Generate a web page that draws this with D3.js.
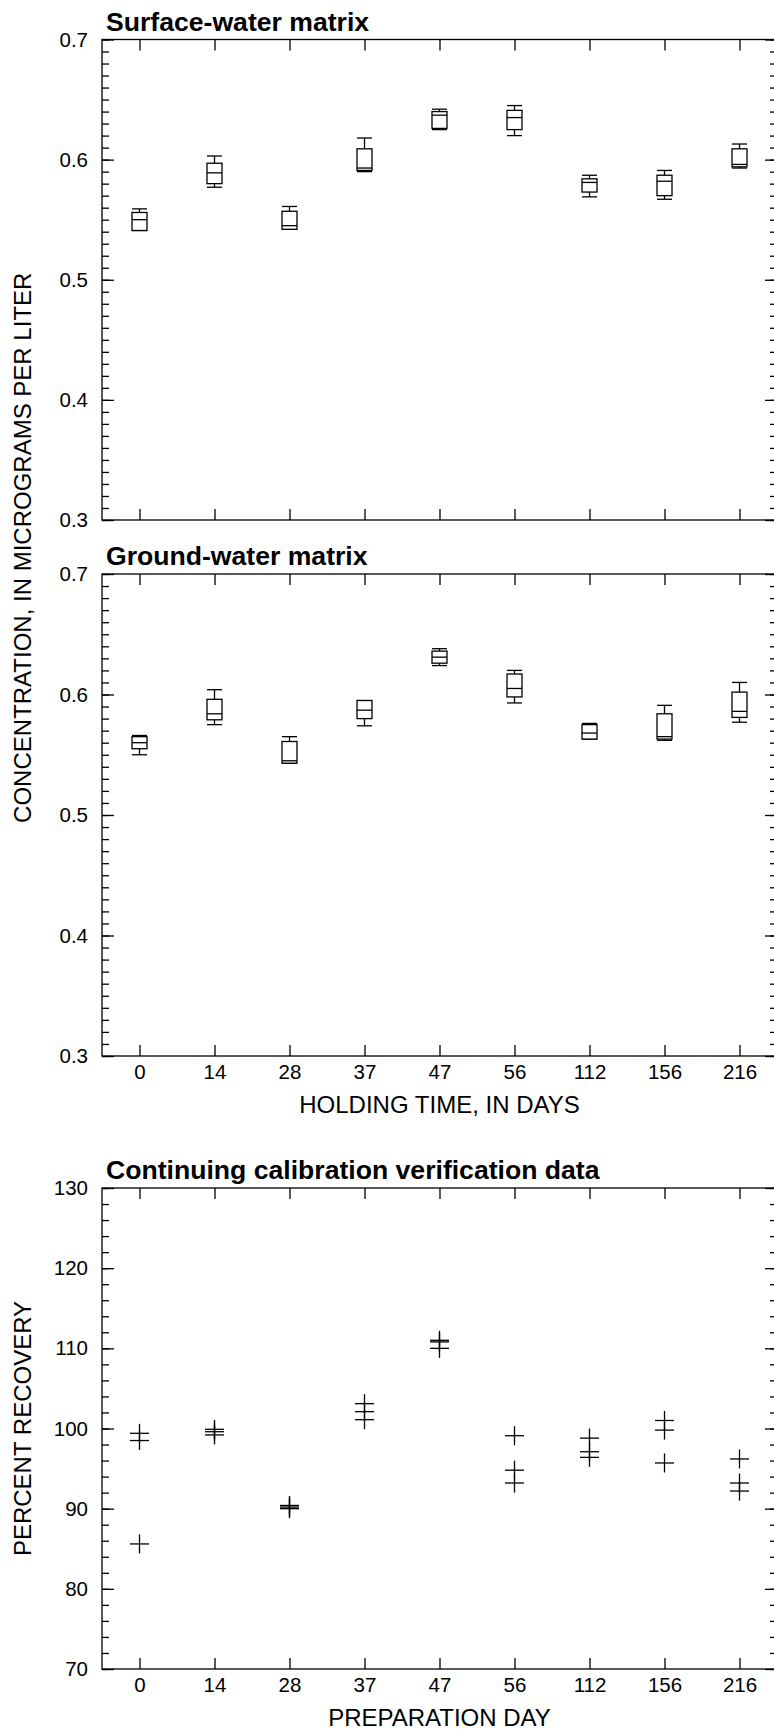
<!DOCTYPE html>
<html>
<head>
<meta charset="utf-8">
<script src="https://cdn.jsdelivr.net/npm/d3@7"></script>
<style>
  html, body { margin: 0; padding: 0; background: #fff; }
  svg { display: block; }
  text { font-family: "Liberation Sans", Arial, Helvetica, sans-serif; fill: #000; }
</style>
</head>
<body>
<svg id="chart" width="774" height="1731"></svg>
<script>
// ---------------- DATA ----------------
const categories = ["0", "14", "28", "37", "47", "56", "112", "156", "216"];

// Surface-water matrix boxes: [lowerWhisker, q1, median, q3, upperWhisker]
const surfaceLow    = [0.541, 0.577, 0.542, 0.590, 0.625, 0.620, 0.569, 0.567, 0.593];
const surfaceQ1     = [0.541, 0.580, 0.542, 0.591, 0.626, 0.625, 0.573, 0.570, 0.594];
const surfaceMedian = [0.550, 0.589, 0.545, 0.593, 0.637, 0.635, 0.581, 0.582, 0.596];
const surfaceQ3     = [0.556, 0.597, 0.557, 0.609, 0.640, 0.641, 0.584, 0.587, 0.609];
const surfaceHigh   = [0.559, 0.603, 0.561, 0.618, 0.642, 0.645, 0.587, 0.591, 0.613];

// Ground-water matrix boxes
const groundLow    = [0.550, 0.575, 0.543, 0.574, 0.624, 0.593, 0.563, 0.562, 0.577];
const groundQ1     = [0.555, 0.579, 0.543, 0.580, 0.626, 0.598, 0.563, 0.563, 0.581];
const groundMedian = [0.560, 0.584, 0.545, 0.587, 0.631, 0.605, 0.568, 0.565, 0.586];
const groundQ3     = [0.565, 0.596, 0.561, 0.595, 0.636, 0.617, 0.575, 0.584, 0.602];
const groundHigh   = [0.566, 0.604, 0.565, 0.595, 0.638, 0.620, 0.576, 0.591, 0.610];

// Continuing calibration verification data (percent recovery), replicate values per day
const ccvDay   = ["0", "0", "0", "14", "14", "14", "28", "28", "28", "37", "37", "37",
                  "47", "47", "47", "56", "56", "56", "112", "112", "112", "156", "156", "156",
                  "216", "216", "216"];
const ccvValue = [99.4, 98.5, 85.6, 99.9, 99.6, 99.2, 90.4, 90.2, 90.0, 103.1, 102.1, 101.1,
                  111.0, 110.8, 110.0, 99.1, 94.8, 93.2, 98.8, 97.1, 96.4, 101.0, 99.8, 95.7,
                  96.2, 93.2, 92.2];

const concTicks = [0.3, 0.4, 0.5, 0.6, 0.7];
const recTicks  = [70, 80, 90, 100, 110, 120, 130];

// ---------------- LAYOUT ----------------
const svg = d3.select("#chart");
const left = 102, right = 777;
const x = d3.scalePoint().domain(categories).range([left, right]).padding(0.5);

const panels = [
  { title: "Surface-water matrix", top: 39.5, bottom: 520, domain: [0.3, 0.7], ticks: concTicks,
    minorStep: 0.01, fmt: d3.format(".1f"), xLabels: false },
  { title: "Ground-water matrix", top: 574, bottom: 1056, domain: [0.3, 0.7], ticks: concTicks,
    minorStep: 0.01, fmt: d3.format(".1f"), xLabels: true },
  { title: "Continuing calibration verification data", top: 1188, bottom: 1669, domain: [70, 130],
    ticks: recTicks, minorStep: 2, fmt: d3.format("d"), xLabels: true }
];

const stroke = "#000";
const lw = 1.3;

panels.forEach((p, pi) => {
  const y = d3.scaleLinear().domain(p.domain).range([p.bottom, p.top]);
  p.y = y;
  const g = svg.append("g");
  const minor = d3.range(p.domain[0], p.domain[1] + p.minorStep / 2, p.minorStep)
    .map(v => +v.toFixed(4));

  // minor ticks left
  g.append("g").attr("transform", `translate(${left},0)`)
    .call(d3.axisLeft(y).tickValues(minor).tickSizeInner(-7).tickSizeOuter(0).tickFormat(""))
    .call(a => a.select(".domain").remove());
  // major ticks left with labels
  g.append("g").attr("transform", `translate(${left},0)`)
    .call(d3.axisLeft(y).tickValues(p.ticks).tickSizeInner(-12).tickSizeOuter(0)
      .tickPadding(14).tickFormat(p.fmt))
    .call(a => a.select(".domain").remove())
    .call(a => a.selectAll("text").attr("font-size", 20.5).attr("font-family", null));
  // right ticks
  g.append("g").attr("transform", `translate(${right},0)`)
    .call(d3.axisRight(y).tickValues(minor).tickSizeInner(-7).tickSizeOuter(0).tickFormat(""))
    .call(a => a.select(".domain").remove());
  g.append("g").attr("transform", `translate(${right},0)`)
    .call(d3.axisRight(y).tickValues(p.ticks).tickSizeInner(-12).tickSizeOuter(0).tickFormat(""))
    .call(a => a.select(".domain").remove());
  // top ticks
  g.append("g").attr("transform", `translate(0,${p.top})`)
    .call(d3.axisTop(x).tickSizeInner(-11).tickSizeOuter(0).tickFormat(""))
    .call(a => a.select(".domain").remove());
  // bottom ticks
  const bx = d3.axisBottom(x).tickSizeInner(-11).tickSizeOuter(0).tickPadding(8);
  if (!p.xLabels) bx.tickFormat("");
  g.append("g").attr("transform", `translate(0,${p.bottom})`)
    .call(bx)
    .call(a => a.select(".domain").remove())
    .call(a => a.selectAll("text").attr("font-size", 20.5).attr("font-family", null));

  g.selectAll(".tick line").attr("stroke", stroke).attr("stroke-width", lw);

  // frame
  g.append("rect").attr("x", left).attr("y", p.top)
    .attr("width", right - left).attr("height", p.bottom - p.top)
    .attr("fill", "none").attr("stroke", stroke).attr("stroke-width", lw);

  // title
  g.append("text").attr("x", left + 4).attr("y", p.top - 9)
    .attr("font-size", 26.6).attr("font-weight", "bold").text(p.title);
});

// ---------------- BOX PLOTS ----------------
function drawBoxes(p, low, q1, med, q3, high) {
  const y = p.y;
  const bw = 15;
  const data = categories.map((c, i) => ({ c, low: low[i], q1: q1[i], med: med[i], q3: q3[i], high: high[i] }));
  const g = svg.append("g").attr("stroke", stroke).attr("stroke-width", lw).attr("fill", "none");
  const b = g.selectAll("g.box").data(data).join("g").attr("class", "box");
  // whiskers
  b.append("line").attr("x1", d => x(d.c)).attr("x2", d => x(d.c))
    .attr("y1", d => y(d.q3)).attr("y2", d => y(d.high));
  b.append("line").attr("x1", d => x(d.c)).attr("x2", d => x(d.c))
    .attr("y1", d => y(d.q1)).attr("y2", d => y(d.low));
  // caps
  b.append("line").attr("x1", d => x(d.c) - bw / 2).attr("x2", d => x(d.c) + bw / 2)
    .attr("y1", d => y(d.high)).attr("y2", d => y(d.high));
  b.append("line").attr("x1", d => x(d.c) - bw / 2).attr("x2", d => x(d.c) + bw / 2)
    .attr("y1", d => y(d.low)).attr("y2", d => y(d.low));
  // box
  b.append("rect").attr("x", d => x(d.c) - bw / 2).attr("width", bw)
    .attr("y", d => y(d.q3)).attr("height", d => y(d.q1) - y(d.q3)).attr("fill", "#fff");
  // median
  b.append("line").attr("x1", d => x(d.c) - bw / 2).attr("x2", d => x(d.c) + bw / 2)
    .attr("y1", d => y(d.med)).attr("y2", d => y(d.med));
}
drawBoxes(panels[0], surfaceLow, surfaceQ1, surfaceMedian, surfaceQ3, surfaceHigh);
drawBoxes(panels[1], groundLow, groundQ1, groundMedian, groundQ3, groundHigh);

// ---------------- CROSSES ----------------
(function () {
  const p = panels[2], y = p.y, s = 9.5;
  const pts = ccvDay.map((d, i) => ({ d, v: ccvValue[i] }));
  const g = svg.append("g").attr("stroke", stroke).attr("stroke-width", lw);
  const c = g.selectAll("g.pt").data(pts).join("g").attr("class", "pt");
  c.append("line").attr("x1", d => x(d.d) - s).attr("x2", d => x(d.d) + s)
    .attr("y1", d => y(d.v)).attr("y2", d => y(d.v));
  c.append("line").attr("x1", d => x(d.d)).attr("x2", d => x(d.d))
    .attr("y1", d => y(d.v) - s).attr("y2", d => y(d.v) + s);
})();

// ---------------- AXIS TITLES ----------------
svg.append("text").attr("text-anchor", "middle").attr("font-size", 24)
  .attr("transform", `translate(31,${(panels[0].top + panels[1].bottom) / 2}) rotate(-90)`)
  .text("CONCENTRATION, IN MICROGRAMS PER LITER");
svg.append("text").attr("text-anchor", "middle").attr("font-size", 24)
  .attr("x", (left + right) / 2).attr("y", panels[1].bottom + 57)
  .text("HOLDING TIME, IN DAYS");
svg.append("text").attr("text-anchor", "middle").attr("font-size", 24)
  .attr("transform", `translate(31,${(panels[2].top + panels[2].bottom) / 2}) rotate(-90)`)
  .text("PERCENT RECOVERY");
svg.append("text").attr("text-anchor", "middle").attr("font-size", 24)
  .attr("x", (left + right) / 2).attr("y", panels[2].bottom + 57)
  .text("PREPARATION DAY");
</script>
</body>
</html>
